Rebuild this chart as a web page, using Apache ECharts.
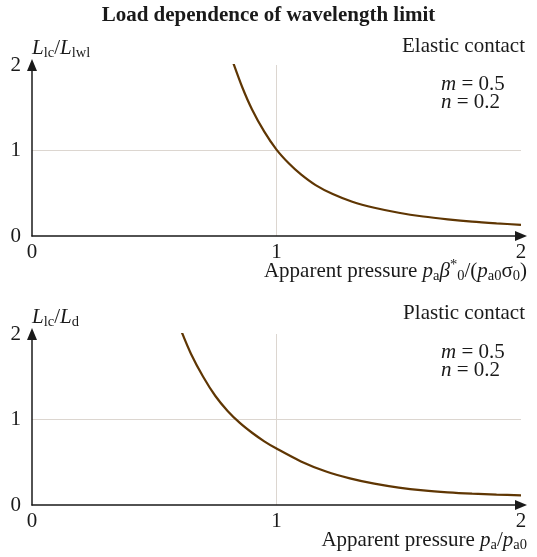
<!DOCTYPE html>
<html>
<head>
<meta charset="utf-8">
<script src="https://cdn.jsdelivr.net/npm/echarts@6/dist/echarts.min.js"></script>
<style>
  html, body { margin: 0; padding: 0; background: #ffffff; }
  #chart { width: 537px; height: 557px; }
</style>
</head>
<body>
<div id="chart"></div>
<script>
// Tick values shared by both panels
const xTicks = [0, 1, 2];
const yTicks = [0, 1, 2];

// Elastic contact: L_lc / L_lwl against p_a β*0 / (p_a0 σ0)
const elasticX = [0.82, 0.86, 0.90, 0.95, 1.00, 1.05, 1.10, 1.16, 1.23, 1.31, 1.40, 1.50, 1.60, 1.70, 1.80, 1.90, 2.00];
const elasticY = [2.05, 1.74, 1.48, 1.22, 1.01, 0.85, 0.72, 0.595, 0.49, 0.40, 0.33, 0.272, 0.228, 0.195, 0.168, 0.148, 0.131];

// Plastic contact: L_lc / L_d against p_a / p_a0
const plasticX = [0.61, 0.65, 0.70, 0.75, 0.80, 0.85, 0.90, 0.95, 1.00, 1.10, 1.20, 1.30, 1.40, 1.50, 1.60, 1.70, 1.80, 1.90, 2.00];
const plasticY = [2.04, 1.77, 1.50, 1.275, 1.10, 0.96, 0.845, 0.745, 0.66, 0.51, 0.395, 0.312, 0.250, 0.204, 0.171, 0.148, 0.132, 0.121, 0.113];

// Text
const chartTitle = 'Load dependence of wavelength limit';
const panelLabels = ['Elastic contact', 'Plastic contact'];
const paramM = '0.5';
const paramN = '0.2';

const SERIF = '"Liberation Serif", "DejaVu Serif", serif';
const INK = '#1a1a1a';
const CURVE = '#5f3603';
const GRID = '#dcd6d0';
const FS = 21;     // body text size
const FS_SUB = 14.5;

const rich = {
  n:   { fontFamily: SERIF, fontSize: FS, color: INK, lineHeight: 26 },
  i:   { fontFamily: SERIF, fontSize: FS, color: INK, lineHeight: 26, fontStyle: 'italic' },
  sub: { fontFamily: SERIF, fontSize: FS_SUB, color: INK, lineHeight: 14, verticalAlign: 'bottom' },
  sup: { fontFamily: SERIF, fontSize: FS_SUB, color: INK, lineHeight: 14, verticalAlign: 'top' }
};

function pairs(xs, ys) {
  return xs.map((x, k) => [x, ys[k]]);
}

const axisLineStyle = {
  show: true, onZero: false, symbol: ['none', 'triangle'], symbolSize: [10, 12],
  lineStyle: { color: INK, width: 1.5 }
};

function xAxisFor(gridIndex, name) {
  return {
    type: 'value', gridIndex: gridIndex, min: xTicks[0], max: xTicks[xTicks.length - 1], interval: 1,
    axisLine: axisLineStyle,
    axisTick: { show: false },
    axisLabel: { margin: 6, fontFamily: SERIF, fontSize: FS, color: INK },
    splitLine: { show: true, lineStyle: { color: ['transparent', GRID, 'transparent'], width: 1 } },
    name: name, nameLocation: 'end', nameGap: 6, nameMoveOverlap: false,
    nameTextStyle: { align: 'right', verticalAlign: 'top', padding: [22, 0, 0, 0], rich: rich }
  };
}

function yAxisFor(gridIndex, name) {
  return {
    type: 'value', gridIndex: gridIndex, min: yTicks[0], max: yTicks[yTicks.length - 1], interval: 1,
    axisLine: axisLineStyle,
    axisTick: { show: false },
    axisLabel: { margin: 11, fontFamily: SERIF, fontSize: FS, color: INK },
    splitLine: { show: true, lineStyle: { color: ['transparent', GRID, 'transparent'], width: 1 } },
    name: name, nameLocation: 'end', nameGap: 4, nameMoveOverlap: false,
    nameTextStyle: { align: 'left', verticalAlign: 'bottom', rich: rich }
  };
}

function panelText(yLabel, yM, yN, label) {
  return [
    { type: 'text', x: 525, y: yLabel, style: {
        text: label, font: FS + 'px ' + SERIF, fill: INK, align: 'right', verticalAlign: 'middle' } },
    { type: 'text', x: 441, y: yM, style: {
        text: '{i|m}{n| = ' + paramM + '}', rich: rich, fill: INK, verticalAlign: 'middle' } },
    { type: 'text', x: 441, y: yN, style: {
        text: '{i|n}{n| = ' + paramN + '}', rich: rich, fill: INK, verticalAlign: 'middle' } }
  ];
}

const chart = echarts.init(document.getElementById('chart'), null, { renderer: 'canvas' });

chart.setOption({
  backgroundColor: '#ffffff',
  animation: false,
  title: {
    text: chartTitle, left: 'center', top: 0,
    textStyle: { fontFamily: SERIF, fontSize: FS, fontWeight: 'bold', color: INK }
  },
  grid: [
    { left: 32, right: 16, top: 65, height: 171, containLabel: false, outerBoundsMode: 'none' },
    { left: 32, right: 16, top: 334, height: 171, containLabel: false, outerBoundsMode: 'none' }
  ],
  xAxis: [
    xAxisFor(0, '{n|Apparent pressure }{i|p}{sub|a}{i|β}{sup|*}{sub|0}{n|/(}{i|p}{sub|a0}{n|σ}{sub|0}{n|)}'),
    xAxisFor(1, '{n|Apparent pressure }{i|p}{sub|a}{n|/}{i|p}{sub|a0}')
  ],
  yAxis: [
    yAxisFor(0, '{i|L}{sub|lc}{n|/}{i|L}{sub|lwl}'),
    yAxisFor(1, '{i|L}{sub|lc}{n|/}{i|L}{sub|d}')
  ],
  graphic: panelText(46, 84, 102, panelLabels[0]).concat(panelText(313, 352, 370, panelLabels[1])),
  series: [
    { type: 'line', xAxisIndex: 0, yAxisIndex: 0, data: pairs(elasticX, elasticY),
      smooth: 0.3, showSymbol: false, lineStyle: { color: CURVE, width: 2.2 } },
    { type: 'line', xAxisIndex: 1, yAxisIndex: 1, data: pairs(plasticX, plasticY),
      smooth: 0.3, showSymbol: false, lineStyle: { color: CURVE, width: 2.2 } }
  ]
});
</script>
</body>
</html>
